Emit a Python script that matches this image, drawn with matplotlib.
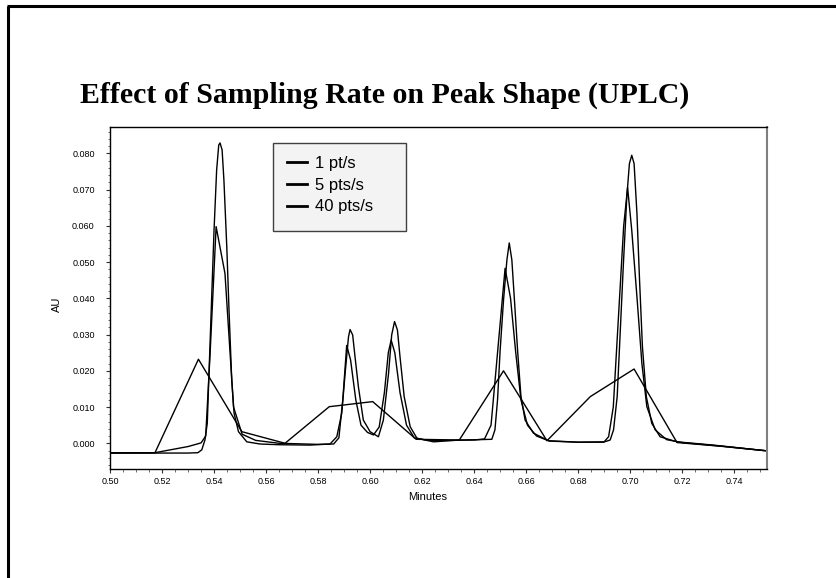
import matplotlib
matplotlib.use("Agg")
import matplotlib.pyplot as plt
from matplotlib.lines import Line2D
from matplotlib.patches import Rectangle
from matplotlib.ticker import MultipleLocator, FormatStrFormatter

# 1 pt/s trace
t1 = [0.5007, 0.5173, 0.5340, 0.5507, 0.5673, 0.5843, 0.6010, 0.6177,
      0.6343, 0.6513, 0.6680, 0.6847, 0.7015, 0.7180, 0.7347, 0.7514]
y1 = [-0.0026, -0.0026, 0.0232, 0.0032, 0.0000, 0.0101, 0.0115, 0.0011,
      0.0009, 0.0200, 0.0007, 0.0129, 0.0205, 0.0002, -0.0008, -0.0020]

# 5 pts/s trace
t5 = [0.5000, 0.5173, 0.5300, 0.5350, 0.5368, 0.5385, 0.5408, 0.5442, 0.5475, 0.5508,
      0.5560, 0.5650, 0.5800, 0.5860, 0.5880, 0.5895, 0.5910, 0.5925, 0.5945, 0.5965,
      0.5990, 0.6013, 0.6035, 0.6055, 0.6070, 0.6081, 0.6095, 0.6115, 0.6140, 0.6170,
      0.6220, 0.6300, 0.6400, 0.6440, 0.6465, 0.6490, 0.6519, 0.6540, 0.6560, 0.6580,
      0.6605, 0.6640, 0.6690, 0.6800, 0.6900, 0.6917, 0.6935, 0.6955, 0.6975, 0.6990,
      0.7006, 0.7026, 0.7045, 0.7064, 0.7096, 0.7140, 0.7200, 0.7350, 0.7526]
y5 = [-0.0027, -0.0026, -0.0009, 0.0001, 0.0020, 0.0250, 0.0598, 0.0469, 0.0100, 0.0025,
      0.0008, 0.0000, -0.0003, -0.0002, 0.0015, 0.0120, 0.0270, 0.0230, 0.0120, 0.0050,
      0.0030, 0.0023, 0.0045, 0.0140, 0.0250, 0.0285, 0.0250, 0.0140, 0.0050, 0.0015,
      0.0008, 0.0008, 0.0009, 0.0012, 0.0050, 0.0250, 0.0483, 0.0400, 0.0250, 0.0120,
      0.0050, 0.0020, 0.0006, 0.0003, 0.0004, 0.0018, 0.0100, 0.0350, 0.0600, 0.0706,
      0.0588, 0.0404, 0.0220, 0.0101, 0.0037, 0.0010, 0.0002, -0.0008, -0.0021]

# 40 pts/s trace
t40 = [0.5000, 0.5100, 0.5200, 0.5300, 0.5338, 0.5353, 0.5365, 0.5374, 0.5382, 0.5391,
       0.5400, 0.5410, 0.5418, 0.5423, 0.5431, 0.5438, 0.5449, 0.5458, 0.5468, 0.5477,
       0.5494, 0.5526, 0.5577, 0.5650, 0.5769, 0.5846, 0.5872, 0.5891, 0.5904, 0.5917,
       0.5923, 0.5933, 0.5942, 0.5955, 0.5974, 0.6000, 0.6032, 0.6051, 0.6071, 0.6083,
       0.6094, 0.6105, 0.6115, 0.6131, 0.6154, 0.6180, 0.6244, 0.6346, 0.6420, 0.6468,
       0.6480, 0.6490, 0.6500, 0.6513, 0.6526, 0.6535, 0.6545, 0.6555, 0.6567, 0.6580,
       0.6596, 0.6628, 0.6686, 0.6800, 0.6897, 0.6923, 0.6936, 0.6950, 0.6962, 0.6974,
       0.6987, 0.6997, 0.7006, 0.7015, 0.7026, 0.7036, 0.7047, 0.7062, 0.7083, 0.7115,
       0.7180, 0.7320, 0.7526]
y40 = [-0.0027, -0.0027, -0.0027, -0.0027, -0.0026, -0.0018, 0.0009, 0.0055, 0.0221, 0.0404,
       0.0588, 0.0754, 0.0823, 0.0829, 0.0810, 0.0726, 0.0542, 0.0359, 0.0175, 0.0083,
       0.0032, 0.0004, -0.0002, -0.0004, -0.0005, -0.0002, 0.0018, 0.0083, 0.0193, 0.0294,
       0.0314, 0.0299, 0.0239, 0.0156, 0.0064, 0.0032, 0.0018, 0.0064, 0.0193, 0.0299,
       0.0336, 0.0313, 0.0239, 0.0129, 0.0046, 0.0014, 0.0004, 0.0009, 0.0010, 0.0011,
       0.0037, 0.0120, 0.0257, 0.0395, 0.0506, 0.0553, 0.0506, 0.0395, 0.0257, 0.0129,
       0.0064, 0.0028, 0.0007, 0.0003, 0.0003, 0.0009, 0.0037, 0.0129, 0.0312, 0.0497,
       0.0680, 0.0772, 0.0795, 0.0772, 0.0634, 0.0450, 0.0267, 0.0129, 0.0055, 0.0018,
       0.0004, -0.0005, -0.0021]

labels = ["1 pt/s", "5 pts/s", "40 pts/s"]

plt.rcParams["font.family"] = ["Liberation Sans", "DejaVu Sans"]

fig = plt.figure(figsize=(8.36, 5.78), dpi=100)

# slide frame
fig.add_artist(Line2D([8 / 836, 8 / 836], [0, 1 - 6 / 578], color="black", lw=2.2,
                      transform=fig.transFigure, solid_capstyle="butt"))
fig.add_artist(Line2D([7 / 836, 1], [1 - 6 / 578, 1 - 6 / 578], color="black", lw=2.2,
                      transform=fig.transFigure, solid_capstyle="butt"))

fig.text(80 / 836, 1 - 103 / 578, "Effect of Sampling Rate on Peak Shape (UPLC)",
         family="Liberation Serif", weight="bold", fontsize=21.5, va="baseline", ha="left")

ax = fig.add_axes([110 / 836, 1 - 469 / 578, 657 / 836, 342 / 578])

for t, y, lab in zip([t1, t5, t40], [y1, y5, y40], labels):
    ax.plot(t, y, color="black", lw=1.0, label=lab)

ax.set_xlim(0.50, 0.7526)
ax.set_ylim(-0.0071, 0.0873)

ax.xaxis.set_major_locator(MultipleLocator(0.02))
ax.xaxis.set_minor_locator(MultipleLocator(0.005))
ax.yaxis.set_major_locator(MultipleLocator(0.01))
ax.yaxis.set_minor_locator(MultipleLocator(0.002))
ax.xaxis.set_major_formatter(FormatStrFormatter("%.2f"))
ax.yaxis.set_major_formatter(FormatStrFormatter("%.3f"))

ax.tick_params(axis="both", which="major", direction="out", length=3, width=0.8,
               labelsize=6.5, color="#333333")
ax.tick_params(axis="both", which="minor", direction="out", length=1.8, width=0.6,
               color="#555555")
ax.tick_params(axis="y", which="major", pad=8)
ax.tick_params(axis="x", which="major", pad=3)

for side in ["left", "bottom", "top"]:
    ax.spines[side].set_color("black")
    ax.spines[side].set_linewidth(1.0)
ax.spines["right"].set_color("#808080")
ax.spines["right"].set_linewidth(1.5)

ax.set_xlabel("Minutes", fontsize=8)
ax.xaxis.set_label_coords((428 - 110) / 657, -0.067)
ax.set_ylabel("AU", fontsize=8)
ax.yaxis.set_label_coords(-0.073, 0.481)

# legend box
ax.add_patch(Rectangle((0.248, 0.695), 0.2025, 0.258, transform=ax.transAxes,
                       facecolor="#f3f3f3", edgecolor="#404040", lw=1.0, zorder=4))
leg = ax.legend(loc="upper left", bbox_to_anchor=(0.27, 0.915), frameon=False,
                fontsize=12, handlelength=1.2, handletextpad=0.45,
                labelspacing=0.4, borderpad=0, borderaxespad=0)
leg.set_zorder(5)
for h in leg.legend_handles:
    h.set_linewidth(2.0)

fig.savefig("out.png", dpi=100)
